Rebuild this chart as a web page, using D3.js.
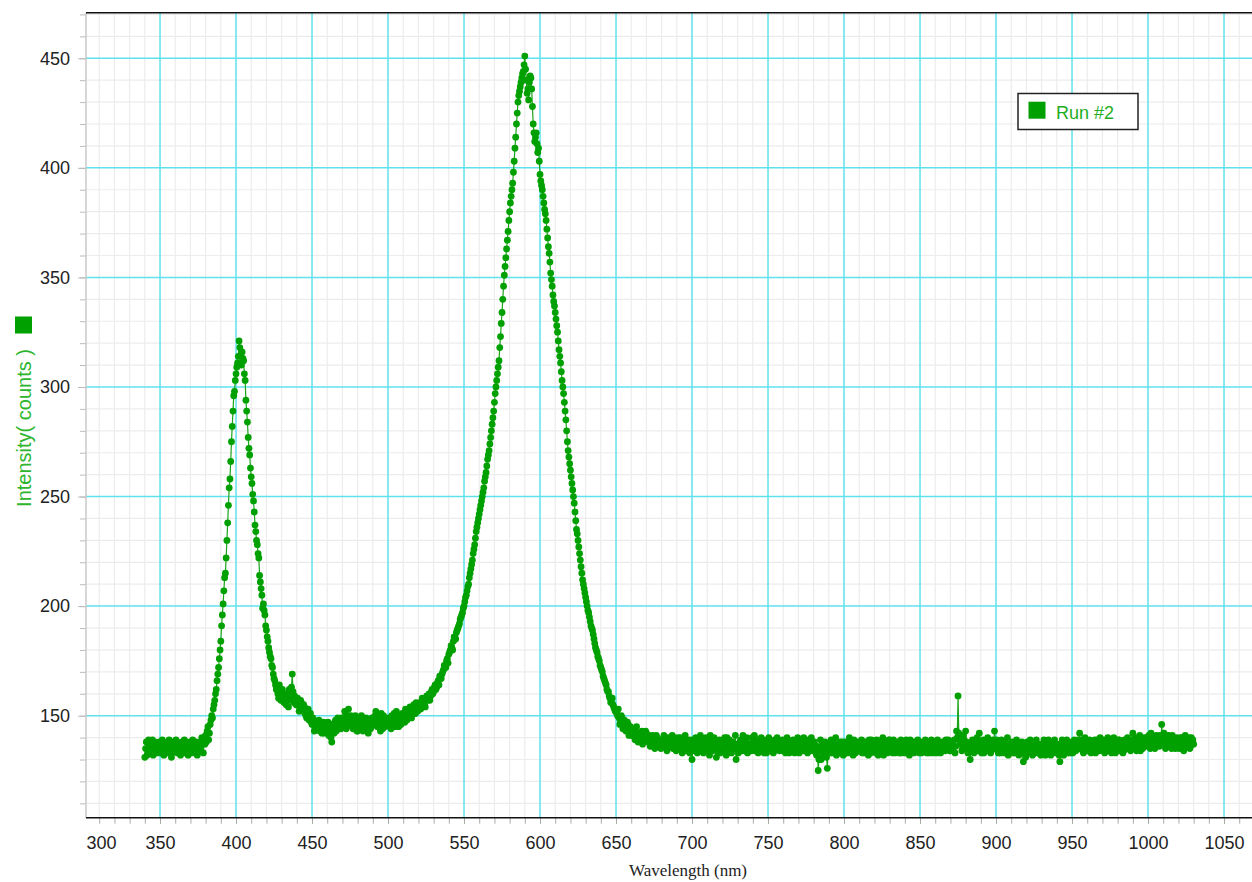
<!DOCTYPE html>
<html><head><meta charset="utf-8">
<script src="https://cdn.jsdelivr.net/npm/d3@7"></script>
<style>html,body{margin:0;padding:0;background:#fff;overflow:hidden}</style>
</head><body><svg id="chart" width="1252" height="882"></svg>
<script>
const seriesName = "Run #2";
const xTitle = "Wavelength (nm)";
const yTitle = "Intensity( counts )";
const xTickValues = [300,350,400,450,500,550,600,650,700,750,800,850,900,950,1000,1050];
const yTickValues = [150,200,250,300,350,400,450];
// spectrometer samples: whole-nm readings start at 340 nm, half-nm readings start at 340.5 nm
const wholeNmStart = 340;
const halfNmStart = 340.5;
const intensity = [
131,138,133,136,134,139,133,135,137,134,
136,133,138,135,137,134,139,136,133,137,
135,138,134,136,133,137,139,134,136,135,
138,134,137,133,136,135,138,134,137,139,
141,143,139,146,150,153,157,162,169,176,
184,196,207,215,230,246,258,275,289,298,
306,311,321,314,316,312,303,289,277,269,
259,251,243,234,228,222,211,205,201,196,
189,184,179,176,172,167,164,162,158,161,
159,157,160,155,158,162,157,169,156,158,
155,157,153,156,152,154,150,152,148,151,
146,148,144,147,145,143,147,145,142,146,
144,141,146,138,145,147,143,149,146,144,
148,145,150,147,153,146,149,144,148,146,
143,147,145,149,146,144,148,142,147,145,
149,146,152,145,148,143,147,150,145,148,
146,149,144,148,151,146,149,145,150,148,
151,147,152,149,153,150,152,155,151,154,
153,156,154,157,155,158,157,160,159,162,
161,164,163,166,168,167,170,173,172,176,
178,180,181,184,186,188,190,192,195,197,
200,204,207,210,215,219,224,228,234,238,
242,246,250,254,259,264,269,274,280,286,
293,300,306,312,323,334,346,355,363,371,
380,387,393,403,414,425,433,437,441,444,
451,440,436,439,441,428,416,414,411,409,
397,392,387,381,376,368,361,352,346,339,
334,328,321,314,307,300,293,285,275,268,
262,256,250,243,235,230,224,218,212,208,
204,200,197,193,190,187,183,180,177,175,
172,170,167,165,162,161,158,157,155,153,
152,150,149,147,149,145,147,144,146,142,
144,141,143,140,142,139,141,143,138,140,
142,138,140,137,141,139,136,140,138,137,
139,136,140,138,135,139,137,141,136,138,
137,140,135,138,136,139,134,138,136,137,
130,138,135,139,136,134,138,135,137,140,
136,134,141,137,135,138,131,136,139,135,
138,134,137,140,135,138,133,137,136,130,
137,135,139,134,138,136,140,135,137,134,
138,141,136,139,134,137,135,139,136,133,
137,139,135,138,134,137,140,135,138,136,
134,138,136,139,133,137,135,138,136,134,
137,135,139,134,136,138,133,137,135,138,
134,136,132,125,135,130,137,133,136,126,
135,133,138,134,136,132,137,135,134,138,
135,133,137,134,139,136,132,137,135,138,
134,136,133,138,135,137,132,136,139,134,
137,133,136,134,138,135,132,137,134,136,
139,135,133,137,134,136,138,133,135,137,
134,139,136,132,137,135,133,138,134,136,
135,133,137,134,136,138,133,135,137,134,
136,133,138,135,137,134,136,139,135,137,
134,138,136,133,143,159,141,137,135,139,
143,136,134,130,137,135,138,134,136,142,
135,137,133,138,136,134,137,135,139,143,
136,134,137,133,135,138,134,136,132,137,
135,133,136,134,137,132,135,138,129,134,
136,133,135,137,132,136,134,137,133,135,
137,134,136,133,135,138,132,136,134,137,
133,135,129,136,134,137,135,133,138,135,
136,134,137,135,139,142,136,134,137,135,
138,135,137,134,136,139,135,137,134,138,
136,134,137,135,139,136,133,137,135,138,
136,139,135,137,134,138,136,135,139,137,
142,136,138,135,137,134,139,136,138,140,
137,139,142,136,140,138,137,139,141,146,
139,137,140,136,139,138,141,137,135,140,
138,136,140,137,135,139,137,140,136,138,
137
];
const intensityHalf = [
135,132,139,134,137,132,138,136,133,138,
134,139,132,137,133,138,135,131,138,134,
139,133,137,132,138,135,133,138,132,137,
133,139,135,138,132,137,135,140,133,137,
138,145,142,148,149,155,160,166,172,180,
191,201,213,222,238,254,266,282,296,303,
309,314,318,310,313,306,294,284,272,263,
256,248,237,230,224,214,208,199,198,191,
186,181,177,173,169,166,162,160,164,157,
162,156,158,159,154,160,163,161,159,155,
158,152,157,153,155,151,149,153,150,147,
149,143,146,144,148,145,142,147,144,143,
147,143,140,144,142,148,145,144,147,149,
146,152,144,149,147,150,145,147,150,143,
148,144,150,143,147,149,145,148,144,149,
147,150,146,149,145,151,144,147,149,146,
148,145,150,147,145,152,147,149,146,151,
149,153,148,151,154,149,153,151,156,152,
155,153,158,156,154,159,158,157,161,160,
163,162,165,164,167,169,171,172,175,174,
179,182,180,186,185,189,191,194,196,199,
202,205,209,213,217,221,226,231,236,240,
244,248,252,257,261,267,271,277,283,289,
297,303,309,318,329,340,351,359,367,376,
384,390,398,409,420,430,435,439,443,447,
445,434,431,442,436,420,412,416,407,403,
394,390,384,379,372,364,357,349,342,337,
331,325,317,311,303,297,289,280,271,265,
259,253,247,239,233,227,221,215,210,206,
202,198,195,191,189,185,181,179,176,173,
171,168,166,164,161,159,156,158,154,152,
151,153,146,150,144,148,143,147,141,145,
141,144,139,145,138,142,140,137,141,143,
139,141,136,140,138,135,141,137,139,135,
137,141,136,134,140,136,138,135,140,134,
138,136,140,133,137,141,136,139,133,139,
134,137,140,133,138,141,136,133,139,135,
139,132,138,134,140,136,134,138,133,137,
135,140,132,137,139,134,138,135,141,136,
133,138,136,141,134,139,133,137,135,140,
136,134,139,133,138,140,136,133,138,135,
140,134,137,133,139,135,138,134,136,139,
137,133,140,135,138,134,139,133,137,140,
133,138,136,140,134,135,139,134,140,136,
138,133,136,130,139,134,132,138,131,135,
137,139,133,136,140,134,133,138,136,132,
138,136,133,140,134,137,139,133,136,134,
137,139,135,133,138,134,139,133,137,136,
134,139,132,137,135,140,134,138,133,139,
134,137,139,133,138,135,133,139,136,133,
138,133,137,139,134,138,136,134,139,133,
138,136,134,139,133,137,135,139,133,138,
134,139,135,133,138,136,134,137,139,134,
137,135,139,136,140,142,138,134,141,136,
138,133,137,135,139,133,137,140,134,138,
133,139,136,134,140,138,133,137,135,138,
139,133,136,139,134,133,137,140,135,134,
138,136,133,139,135,137,133,136,137,131,
138,135,139,134,136,133,139,135,137,132,
134,139,132,137,139,134,137,133,139,135,
137,132,134,139,132,136,139,137,133,137,
133,139,134,138,136,135,139,133,140,137,
134,139,133,138,135,133,139,136,140,135,
139,133,138,140,134,138,136,140,133,136,
139,134,138,133,139,135,140,137,134,139,
135,140,134,139,141,137,135,140,136,138,
141,135,138,140,135,141,139,136,138,140,
142,135,139,141,137,135,140,136,139,137,
135,140,138,134,141,136,139,135,140,139
];
const points = intensity.map((v, i) => ({ wl: wholeNmStart + i, v }))
  .concat(intensityHalf.map((v, i) => ({ wl: halfNmStart + i, v })))
  .sort((a, b) => a.wl - b.wl);

const L = 86, T = 12.7, R = 1252, B = 817.7;
const svg = d3.select("#chart");
const x = d3.scaleLinear().domain([301.3, 1068.4]).range([L, R]);
const y = d3.scaleLinear().domain([103.45, 470.8]).range([B, T]);

const [x0, x1] = x.domain(), [y0, y1] = y.domain();
const minorX = d3.range(310, 1070, 10).filter(v => v >= x0 && v <= x1);
const minorY = d3.range(110, 471, 10).filter(v => v >= y0 && v <= y1);
const majorX = xTickValues.filter(v => v >= x0 && v <= x1);
const majorY = yTickValues;

const grid = svg.append("g");
grid.selectAll(".mx").data(minorX.filter(v => v % 50)).join("line")
  .attr("x1", d => x(d)).attr("x2", d => x(d)).attr("y1", T).attr("y2", B)
  .attr("stroke", "#ececec").attr("stroke-width", 1.2);
grid.selectAll(".my").data(minorY.filter(v => v % 50)).join("line")
  .attr("x1", L).attr("x2", R).attr("y1", d => y(d)).attr("y2", d => y(d))
  .attr("stroke", "#ececec").attr("stroke-width", 1.2);
grid.selectAll(".Mx").data(majorX).join("line")
  .attr("x1", d => x(d)).attr("x2", d => x(d)).attr("y1", T).attr("y2", B)
  .attr("stroke", "#5fe2ee").attr("stroke-width", 1.5);
grid.selectAll(".My").data(majorY).join("line")
  .attr("x1", L).attr("x2", R).attr("y1", d => y(d)).attr("y2", d => y(d))
  .attr("stroke", "#5fe2ee").attr("stroke-width", 1.5);

// axes
const font = "'Liberation Sans', Arial, sans-serif";
const xMinorAxis = svg.append("g").attr("transform", `translate(0,${B})`)
  .call(d3.axisBottom(x).tickValues(minorX).tickSize(6).tickFormat(""));
xMinorAxis.select(".domain").remove();
xMinorAxis.selectAll("line").attr("stroke", "#aaa");
const xAxis = svg.append("g").attr("transform", `translate(0,${B})`)
  .call(d3.axisBottom(x).tickValues(xTickValues).tickSize(6).tickPadding(13).tickFormat(d3.format("d")));
xAxis.select(".domain").remove();
xAxis.selectAll("line").attr("stroke", "#aaa");
xAxis.selectAll("text").attr("font-family", font).attr("font-size", 18).attr("fill", "#222");
xAxis.selectAll(".tick").filter(d => d < x0).select("text").attr("text-anchor", "start").attr("x", x(x0) - x(300));
xAxis.selectAll(".tick").filter(d => d < x0).select("line").remove();

const yMinorAxis = svg.append("g").attr("transform", `translate(${L},0)`)
  .call(d3.axisLeft(y).tickValues(minorY).tickSize(6).tickFormat(""));
yMinorAxis.select(".domain").remove();
yMinorAxis.selectAll("line").attr("stroke", "#bbb");
const yAxis = svg.append("g").attr("transform", `translate(${L},0)`)
  .call(d3.axisLeft(y).tickValues(yTickValues).tickSize(8).tickPadding(8).tickFormat(d3.format("d")));
yAxis.select(".domain").remove();
yAxis.selectAll("line").attr("stroke", "#bbb");
yAxis.selectAll("text").attr("font-family", font).attr("font-size", 18).attr("fill", "#222");

svg.append("line").attr("x1", L).attr("x2", L).attr("y1", T).attr("y2", B)
  .attr("stroke", "#c8c8c8").attr("stroke-width", 1.5);
svg.append("line").attr("x1", L).attr("x2", R).attr("y1", B).attr("y2", B)
  .attr("stroke", "#111").attr("stroke-width", 1.5);
svg.append("line").attr("x1", L).attr("x2", R).attr("y1", T).attr("y2", T)
  .attr("stroke", "#111").attr("stroke-width", 1.5);

// data
svg.append("clipPath").attr("id", "clip").append("rect")
  .attr("x", L).attr("y", T).attr("width", R - L).attr("height", B - T);
const plot = svg.append("g").attr("clip-path", "url(#clip)");
plot.append("path").datum(points)
  .attr("d", d3.line().x(d => x(d.wl)).y(d => y(d.v)))
  .attr("fill", "none").attr("stroke", "#1aa51a").attr("stroke-width", 1.2);
plot.selectAll("circle").data(points).join("circle")
  .attr("cx", d => x(d.wl)).attr("cy", d => y(d.v)).attr("r", 3.4)
  .attr("fill", "#00a000");

// titles
svg.append("text").attr("x", 688).attr("y", 876).attr("text-anchor", "middle")
  .attr("font-family", "'Liberation Serif', 'Times New Roman', serif").attr("font-size", 17)
  .attr("fill", "#222").text(xTitle);
svg.append("text").attr("transform", "translate(31,428) rotate(-90)").attr("text-anchor", "middle")
  .attr("font-family", font).attr("font-size", 20).attr("fill", "#2db52d").text(yTitle);
svg.append("rect").attr("x", 15).attr("y", 316.5).attr("width", 17).attr("height", 17).attr("fill", "#00a000");

// legend
const lg = svg.append("g");
lg.append("rect").attr("x", 1018).attr("y", 93.5).attr("width", 120).attr("height", 36)
  .attr("fill", "#fff").attr("stroke", "#222").attr("stroke-width", 1.5);
lg.append("rect").attr("x", 1028.5).attr("y", 101.7).attr("width", 17).attr("height", 17).attr("fill", "#00a000");
lg.append("text").attr("x", 1056).attr("y", 118.5).attr("font-family", font).attr("font-size", 18)
  .attr("fill", "#1fae1f").text(seriesName);
</script></body></html>
